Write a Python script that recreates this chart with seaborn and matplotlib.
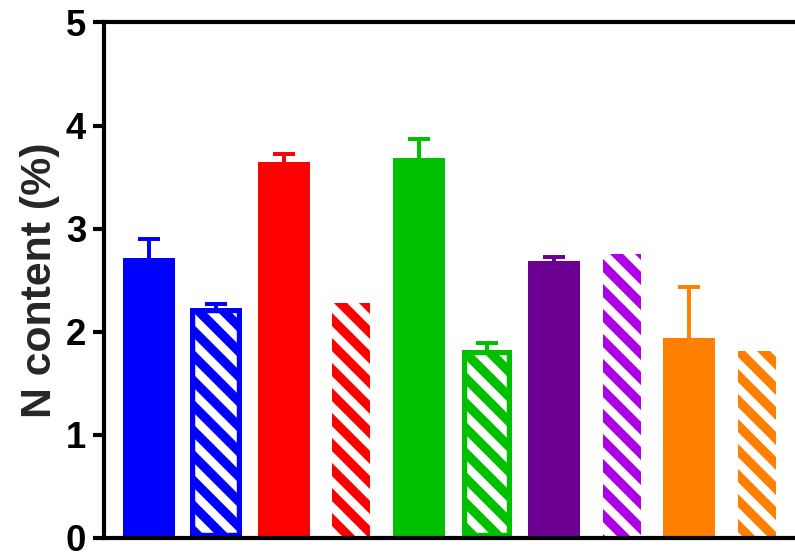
import seaborn as sns
import matplotlib.pyplot as plt
import numpy as np
import pandas as pd

# bars left to right (solid / hatched pairs)
groups = ['A1', 'A2', 'B1', 'B2', 'C1', 'C2', 'D1', 'D2', 'E1', 'E2']
n_content = [2.72, 2.23, 3.65, 2.28, 3.69, 1.82, 2.69, 2.75, 1.94, 1.81]
n_err = [0.18, 0.04, 0.07, 0.0, 0.18, 0.075, 0.04, 0.0, 0.49, 0.0]
bar_colors = ['#0000ff', '#0000ff', '#ff0000', '#ff0000', '#00c000', '#00c000',
              '#6c0092', '#ae00e6', '#ff8000', '#ff8000']
hatched = [False, True, False, True, False, True, False, True, False, True]
y_ticks = [0, 1, 2, 3, 4, 5]

# style only
bar_widths = [0.77, 0.77, 0.77, 0.56, 0.77, 0.74, 0.77, 0.56, 0.77, 0.56]
bordered = [False, True, False, False, False, True, False, False, False, False]

sns.set_style('ticks')
plt.rcParams['font.family'] = ['Liberation Sans', 'DejaVu Sans']
plt.rcParams['font.weight'] = 'bold'
plt.rcParams['hatch.linewidth'] = 4

df = pd.DataFrame({'group': groups, 'n': n_content})

dpi = 150
fig = plt.figure(figsize=(795 / dpi, 554 / dpi), dpi=dpi)
ax = fig.add_axes([0.1302, 0.0289, 0.8698, 0.9305])

sns.barplot(data=df, x='group', y='n', hue='group', palette=bar_colors,
            saturation=1, width=0.77, legend=False, errorbar=None, ax=ax)

bars = sorted(ax.patches, key=lambda p: p.get_x())
for i, p in enumerate(bars):
    cx = p.get_x() + p.get_width() / 2
    p.set_width(bar_widths[i])
    p.set_x(cx - bar_widths[i] / 2)
    p.set_linewidth(0)
    if hatched[i]:
        p.set_hatch('\\\\')
        p.set_edgecolor('white')
        p.set_linewidth(0)
        if bordered[i]:
            b = ax.bar(cx, p.get_height(), width=bar_widths[i], fill=False,
                       edgecolor=bar_colors[i], linewidth=5)[0]
            b.set_clip_path(p)
    if n_err[i] > 0:
        eb = ax.errorbar(cx, n_content[i], yerr=[[0], [n_err[i]]], fmt='none',
                         ecolor=bar_colors[i], elinewidth=1.9, capsize=5.3,
                         capthick=1.9)
        # keep only the upper cap
        for cap in eb[1]:
            if np.allclose(cap.get_ydata(), n_content[i]):
                cap.remove()

for s in ['left', 'bottom', 'top']:
    ax.spines[s].set_linewidth(2)
    ax.spines[s].set_color('black')
ax.spines['right'].set_visible(False)

ax.set_ylim(0, 5)
ax.set_yticks(y_ticks)
ax.set_xlim(-0.666, 9.563)
ax.tick_params(axis='y', length=5.3, width=2, labelsize=17.5, pad=3,
               direction='out', color='black', labelcolor='black')
ax.tick_params(axis='x', length=0, labelbottom=False)
ax.set_xlabel('')
ax.set_ylabel('N content (%)', fontsize=20.5, fontweight='bold', labelpad=3)

fig.savefig('out.png', dpi=dpi)
